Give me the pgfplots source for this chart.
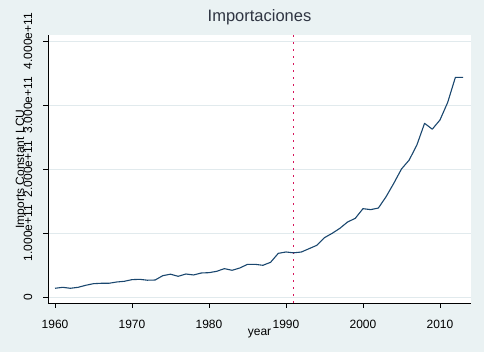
\documentclass[border=0pt]{standalone}
\usepackage{fontspec}
\setmainfont{Liberation Sans}
\usepackage{pgfplots}
\pgfplotsset{compat=1.18}
\definecolor{bgc}{HTML}{EAF2F3}
\definecolor{gridc}{HTML}{E1EAED}
\definecolor{stnavy}{HTML}{1A476F}
\definecolor{vlc}{HTML}{D6145A}
\definecolor{titc}{HTML}{2F3542}
\begin{document}
\begin{tikzpicture}[x=1pt,y=1pt]
\fill[bgc, use as bounding box] (-48,-49) rectangle (436,303);
\begin{axis}[
  at={(0,0)}, anchor=south west, scale only axis,
  width=423pt, height=268pt,
  xmin=1959.09, xmax=2014.03, ymin=-0.094e11, ymax=4.094e11,
  axis x line*=bottom, axis y line*=left,
  axis line style={black, line width=0.8pt, -},
  axis background/.style={fill=white},
  tick align=outside, major tick length=5pt,
  tick style={black, line width=0.8pt},
  xtick={1960,1970,1980,1990,2000,2010},
  xticklabels={1960,1970,1980,1990,2000,2010},
  ytick={0,1e11,2e11,3e11,4e11},
  yticklabels={0,1.000e+11,2.000e+11,3.000e+11,4.000e+11},
  scaled y ticks=false, scaled x ticks=false,
  ymajorgrids, grid style={gridc, line width=0.8pt},
  tick label style={font=\fontsize{12}{14}\selectfont, black},
  yticklabel style={rotate=90, anchor=base, yshift=11pt},
  xticklabel style={anchor=base, yshift=-21pt},
  label style={font=\fontsize{12}{14}\selectfont, black},
  xlabel={year},
  xlabel style={at={(axis description cs:0.5,-0.1231)}, anchor=base},
  ylabel={Imports Constant LCU},
  ylabel style={at={(axis description cs:-0.0567,0.5)}, rotate=0, anchor=base},
  title={Importaciones},
  title style={at={(axis description cs:0.5,1.0261)}, anchor=base, font=\fontsize{16.5}{18}\selectfont, text=titc},
]
\addplot[color=vlc, line width=1.3pt, line cap=butt, dash pattern=on 2.2pt off 4.8pt] coordinates {(1991,-0.094e11) (1991,4.094e11)};
\addplot[color=stnavy, line width=1.1pt, line join=round] coordinates {
(1960,0.136e11) (1961,0.151e11) (1962,0.136e11) (1963,0.151e11) (1964,0.183e11)
(1965,0.208e11) (1966,0.214e11) (1967,0.214e11) (1968,0.234e11) (1969,0.245e11)
(1970,0.271e11) (1971,0.276e11) (1972,0.262e11) (1973,0.265e11) (1974,0.333e11)
(1975,0.356e11) (1976,0.323e11) (1977,0.359e11) (1978,0.344e11) (1979,0.375e11)
(1980,0.380e11) (1981,0.401e11) (1982,0.443e11) (1983,0.417e11) (1984,0.453e11)
(1985,0.510e11) (1986,0.510e11) (1987,0.495e11) (1988,0.542e11) (1989,0.682e11)
(1990,0.703e11) (1991,0.690e11) (1992,0.703e11) (1993,0.755e11) (1994,0.807e11)
(1995,0.927e11) (1996,0.995e11) (1997,1.073e11) (1998,1.172e11) (1999,1.229e11)
(2000,1.380e11) (2001,1.365e11) (2002,1.390e11) (2003,1.567e11) (2004,1.776e11)
(2005,2.000e11) (2006,2.140e11) (2007,2.375e11) (2008,2.714e11) (2009,2.622e11)
(2010,2.766e11) (2011,3.040e11) (2012,3.432e11) (2013,3.432e11)
};
\end{axis}
\end{tikzpicture}
\end{document}
